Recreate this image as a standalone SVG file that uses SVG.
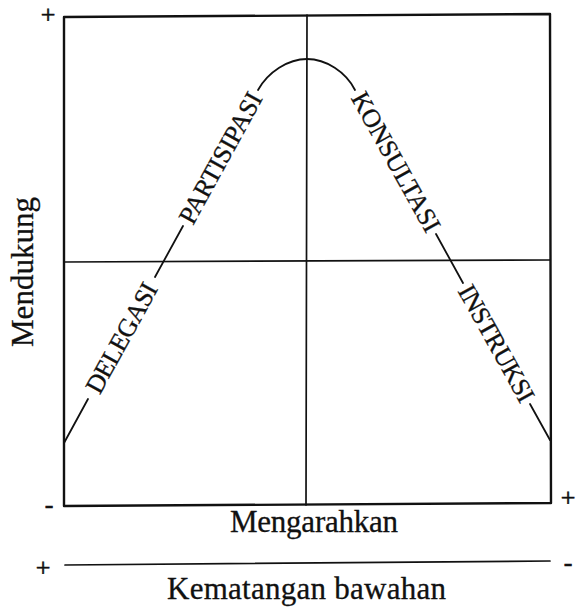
<svg xmlns="http://www.w3.org/2000/svg" width="576" height="608" viewBox="0 0 576 608">
<style>
.ln{fill:none;stroke:#111;stroke-linecap:round;stroke-linejoin:round}
.box{stroke-width:2.4}
.axis{stroke-width:1.7}
.curve{stroke-width:1.8}
.lbl{font-family:"Liberation Serif","Times New Roman",serif;font-size:31px;fill:#111;stroke:#111;stroke-width:0.3}
.cl{font-family:"Liberation Serif","Times New Roman",serif;font-size:26px;fill:#111;stroke:#111;stroke-width:0.3}
.sign{font-family:"Liberation Serif","Times New Roman",serif;font-size:26px;fill:#111;stroke:#111;stroke-width:0.6;text-anchor:middle}
</style>
<rect width="576" height="608" fill="#fff"/>
<g id="frame">
<path class="ln box" d="M64,17 L550,14 L551,503 L64,506 Z"/>
</g>
<g id="axes">
<path class="ln axis" d="M64,262 L550,260"/>
<path class="ln axis" d="M307,15 L306,505"/>
<path class="ln axis" d="M65,565 L550,561"/>
</g>
<g id="connectors">
<path class="ln curve" d="M64,443 L88,399"/>
<path class="ln curve" d="M155,277 L183,226"/>
<path class="ln curve" d="M258,90 C268,72 288,59 307,59 C326,59 346,72 355,90"/>
<path class="ln curve" d="M436,234 L463,283"/>
<path class="ln curve" d="M530,404 L550,440"/>
</g>
<g id="delegasi" transform="translate(121.5,338) rotate(-61.2)">
<text class="cl" x="0" y="8.6" text-anchor="middle" textLength="122">DELEGASI</text>
</g>
<g id="partisipasi" transform="translate(220.5,158) rotate(-61.2)">
<text class="cl" x="0" y="8.6" text-anchor="middle" textLength="146">PARTISIPASI</text>
</g>
<g id="konsultasi" transform="translate(396,162) rotate(60.9)">
<text class="cl" x="0" y="8.6" text-anchor="middle" textLength="156">KONSULTASI</text>
</g>
<g id="instruksi" transform="translate(496.5,343.5) rotate(60.9)">
<text class="cl" x="0" y="8.6" text-anchor="middle" textLength="130">INSTRUKSI</text>
</g>
<g id="labels">
<text class="lbl" x="314" y="532" text-anchor="middle" textLength="168">Mengarahkan</text>
<text class="lbl" x="306.5" y="599" text-anchor="middle" textLength="279">Kematangan bawahan</text>
<text class="lbl" transform="translate(33,272) rotate(-90)" x="0" y="0" text-anchor="middle" textLength="150">Mendukung</text>
</g>
<g id="signs">
<text class="sign" x="48" y="23.2">+</text>
<text class="sign" x="49" y="513">-</text>
<text class="sign" x="568" y="505.5">+</text>
<text class="sign" x="43" y="575.5">+</text>
<text class="sign" x="568" y="571">-</text>
</g>
</svg>
